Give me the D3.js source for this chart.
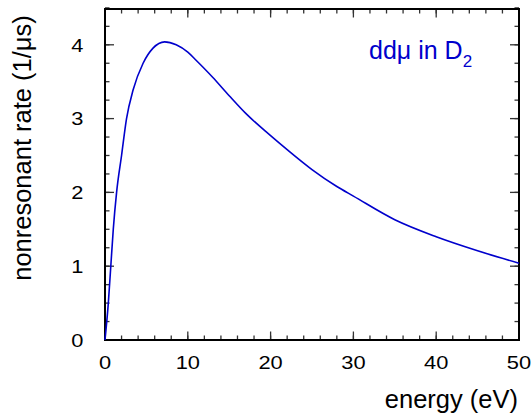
<!DOCTYPE html>
<html>
<head>
<meta charset="utf-8">
<script src="https://cdn.jsdelivr.net/npm/d3@7"></script>
<style>
  body { margin: 0; background: #fff; }
  text { font-family: "Liberation Sans", Arial, sans-serif; }
</style>
</head>
<body>
<svg width="531" height="417"></svg>
<script>
// energy in eV
const energy = [0, 0.4, 0.7, 1.0, 1.4, 2.0, 2.6, 3.4, 4.6, 5.8, 7.2, 8.6, 10, 11, 13, 15, 17, 20, 22, 25, 28, 30, 35, 40, 45, 50];
// nonresonant rate in 1/us
const rate = [0, 0.5, 1.0, 1.5, 2.0, 2.5, 3.0, 3.39, 3.75, 3.955, 4.04, 4.0, 3.9, 3.79, 3.56, 3.31, 3.07, 2.77, 2.58, 2.31, 2.08, 1.95, 1.63, 1.40, 1.21, 1.04];

const xMajor = [0, 10, 20, 30, 40, 50];
const xMinor = d3.range(0, 50.01, 2);
const yMajor = [0, 1, 2, 3, 4];
const yMinor = d3.range(0, 4.51, 0.25);

let margin = { top: 9, right: 12, bottom: 77, left: 105 };
let width = 531 - margin.left - margin.right;
let height = 417 - margin.top - margin.bottom;

let svg = d3.select('svg');

let x = d3.scaleLinear()
    .domain([0, 50])
    .range([margin.left, margin.left + width]);

let y = d3.scaleLinear()
    .domain([0, 4.485])
    .range([margin.top + height, margin.top]);

const tickColor = '#333';

// ticks point inward on all four sides
function xTicks(vals, len, yPos, dir) {
    svg.append('g').selectAll('line')
        .data(vals)
        .enter().append('line')
        .attr('x1', d => x(d)).attr('x2', d => x(d))
        .attr('y1', yPos).attr('y2', yPos + dir * len)
        .attr('stroke', tickColor).attr('stroke-width', 1.3);
}
function yTicks(vals, len, xPos, dir) {
    svg.append('g').selectAll('line')
        .data(vals)
        .enter().append('line')
        .attr('y1', d => y(d)).attr('y2', d => y(d))
        .attr('x1', xPos).attr('x2', xPos + dir * len)
        .attr('stroke', tickColor).attr('stroke-width', 1.3);
}
xTicks(xMinor, 4.5, y(0), -1);
xTicks(xMajor, 8.5, y(0), -1);
xTicks(xMinor, 4.5, margin.top, 1);
xTicks(xMajor, 8.5, margin.top, 1);
yTicks(yMinor, 4.5, x(0), 1);
yTicks(yMajor, 9, x(0), 1);
yTicks(yMinor, 4.5, x(50), -1);
yTicks(yMajor, 9, x(50), -1);

// frame
svg.append('rect')
    .attr('x', margin.left).attr('y', margin.top)
    .attr('width', width).attr('height', height)
    .attr('fill', 'none').attr('stroke', '#000').attr('stroke-width', 2);

// tick labels
svg.append('g').selectAll('text')
    .data(xMajor)
    .enter().append('text')
    .attr('transform', d => `translate(${x(d)}, 369) scale(1.15, 1)`)
    .attr('text-anchor', 'middle')
    .attr('font-size', 19)
    .text(d => d);

svg.append('g').selectAll('text')
    .data(yMajor)
    .enter().append('text')
    .attr('transform', d => `translate(83.5, ${y(d) + 6.8}) scale(1.15, 1)`)
    .attr('text-anchor', 'end')
    .attr('font-size', 19)
    .text(d => d);

// axis titles
svg.append('text')
    .attr('x', 518).attr('y', 408)
    .attr('text-anchor', 'end')
    .attr('font-size', 25.5)
    .text('energy (eV)');

svg.append('text')
    .attr('transform', 'translate(31, 148) rotate(-90)')
    .attr('text-anchor', 'middle')
    .attr('font-size', 25.5)
    .text('nonresonant rate (1/\u03bcs)');

// annotation
let ann = svg.append('text')
    .attr('x', 369).attr('y', 59)
    .attr('fill', '#0000cc')
    .attr('font-size', 25);
ann.append('tspan').text('dd\u03bc in D');
ann.append('tspan').attr('font-size', 17).attr('dy', 8).text('2');

// curve
let line = d3.line()
    .x((d, i) => x(energy[i]))
    .y((d, i) => y(rate[i]))
    .curve(d3.curveMonotoneX);

svg.append('path')
    .datum(rate)
    .attr('d', line)
    .attr('fill', 'none')
    .attr('stroke', '#0000cc')
    .attr('stroke-width', 1.6);
</script>
</body>
</html>
